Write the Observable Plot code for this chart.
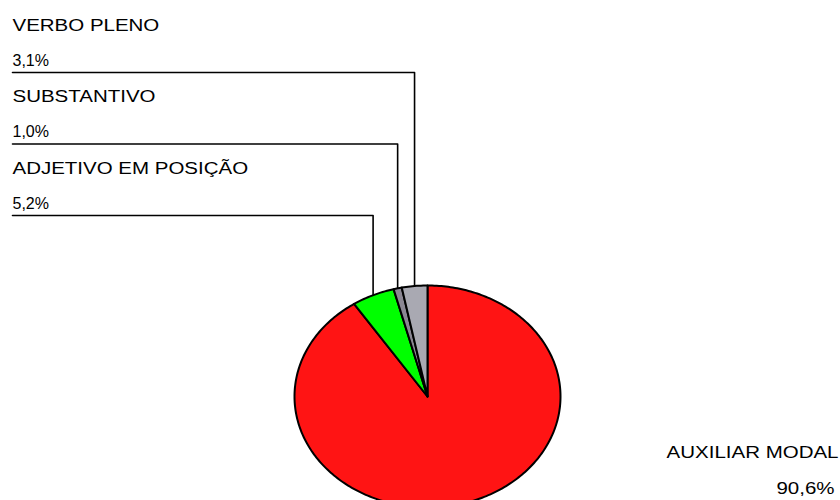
<!DOCTYPE html>
<html>
<head>
<meta charset="utf-8">
<script src="https://cdn.jsdelivr.net/npm/d3@7"></script>
<script src="https://cdn.jsdelivr.net/npm/@observablehq/plot@0.6"></script>
<style>
  html, body { margin: 0; padding: 0; background: #fff; overflow: hidden; }
  #chart svg { display: block; }
</style>
</head>
<body>
<div id="chart"></div>
<script>
// ---- data ----
const categories = ["AUXILIAR MODAL", "ADJETIVO EM POSIÇÃO", "SUBSTANTIVO", "VERBO PLENO"];
const values = [90.6, 5.2, 1.0, 3.1];
const valueLabels = ["90,6%", "5,2%", "1,0%", "3,1%"];
const colors = ["#ff1414", "#00ff00", "#8b8793", "#a9a9b2"];

// ---- layout (pixels) ----
const W = 840, H = 500;
const CX = 427, CY = 396, RX = 133, RY = 111;
const FONT = "'Liberation Sans', Arial, Helvetica, sans-serif";
const LABEL_LEFT = 12;
const ROW_STEP = 71.5;
const NAME_BASE = 30, PCT_BASE = 65, LINE_BASE = 72;
const STRETCH = 1.28; // horizontal stretch of the wide label text
// rows on the left, top to bottom, by category index
const leftOrder = [3, 2, 1];

// pixel -> data helpers (inverse of the scales below)
const invX = p => (p - CX) / RX;
const invY = p => (CY - p) / RY;

const total = d3.sum(values);
let cum = 0;
const slices = values.map((v, i) => {
  const a0 = cum / total * 2 * Math.PI;
  cum += v;
  const a1 = cum / total * 2 * Math.PI;
  const pts = [{x: 0, y: 0, cat: categories[i]}];
  const n = Math.max(2, Math.ceil((a1 - a0) / (Math.PI / 180)));
  for (let k = 0; k <= n; ++k) {
    const a = a0 + (a1 - a0) * k / n;
    pts.push({x: Math.sin(a), y: Math.cos(a), cat: categories[i]});
  }
  pts.push({x: 0, y: 0, cat: categories[i]});
  return {i, a0, a1, mid: (a0 + a1) / 2, pts};
});

const leaders = [];
const names = [];
const pcts = [];
leftOrder.forEach((ci, row) => {
  const s = slices[ci];
  const ly = invY(LINE_BASE + row * ROW_STEP);
  leaders.push({x: invX(LABEL_LEFT), y: ly, cat: categories[ci]});
  leaders.push({x: Math.sin(s.mid), y: ly, cat: categories[ci]});
  leaders.push({x: Math.sin(s.mid), y: Math.cos(s.mid), cat: categories[ci]});
  names.push({x: invX(LABEL_LEFT), y: invY(NAME_BASE + row * ROW_STEP), t: categories[ci]});
  pcts.push({x: invX(LABEL_LEFT), y: invY(PCT_BASE + row * ROW_STEP), t: valueLabels[ci]});
});
const mainName = [{x: invX(838), y: invY(457), t: categories[0]}];
const mainPct = [{x: invX(834), y: invY(493), t: valueLabels[0]}];

const marks = [
  Plot.line(leaders, {x: "x", y: "y", z: "cat", stroke: "black", strokeWidth: 1.6, curve: "linear"}),
  ...slices.map(s => Plot.line(s.pts, {
    x: "x", y: "y", fill: colors[s.i], stroke: "black", strokeWidth: 2,
    strokeLinejoin: "round", curve: "linear"
  })),
  Plot.text(names, {x: "x", y: "y", text: "t", textAnchor: "start", lineAnchor: "bottom",
    fontSize: 16, fontFamily: FONT, fill: "black"}),
  Plot.text(pcts, {x: "x", y: "y", text: "t", textAnchor: "start", lineAnchor: "bottom",
    fontSize: 16, fontFamily: FONT, fill: "black"}),
  Plot.text(mainName, {x: "x", y: "y", text: "t", textAnchor: "end", lineAnchor: "bottom",
    fontSize: 16, fontFamily: FONT, fill: "black"}),
  Plot.text(mainPct, {x: "x", y: "y", text: "t", textAnchor: "end", lineAnchor: "bottom",
    fontSize: 16, fontFamily: FONT, fill: "black"})
];

const chart = Plot.plot({
  width: W,
  height: H,
  margin: 0,
  x: {domain: [-1, 1], range: [CX - RX, CX + RX], axis: null},
  y: {domain: [-1, 1], range: [CY + RY, CY - RY], axis: null},
  style: {background: "white", fontFamily: FONT},
  marks
});
document.getElementById("chart").appendChild(chart);

// stretch the category names and the main percentage horizontally, as in the reference
const wide = new Set([...categories, valueLabels[0]]);
d3.select(chart).selectAll("text").each(function () {
  if (!wide.has(this.textContent)) return;
  const len = this.getComputedTextLength();
  this.setAttribute("textLength", (len * STRETCH).toFixed(1));
  this.setAttribute("lengthAdjust", "spacingAndGlyphs");
});
</script>
</body>
</html>
